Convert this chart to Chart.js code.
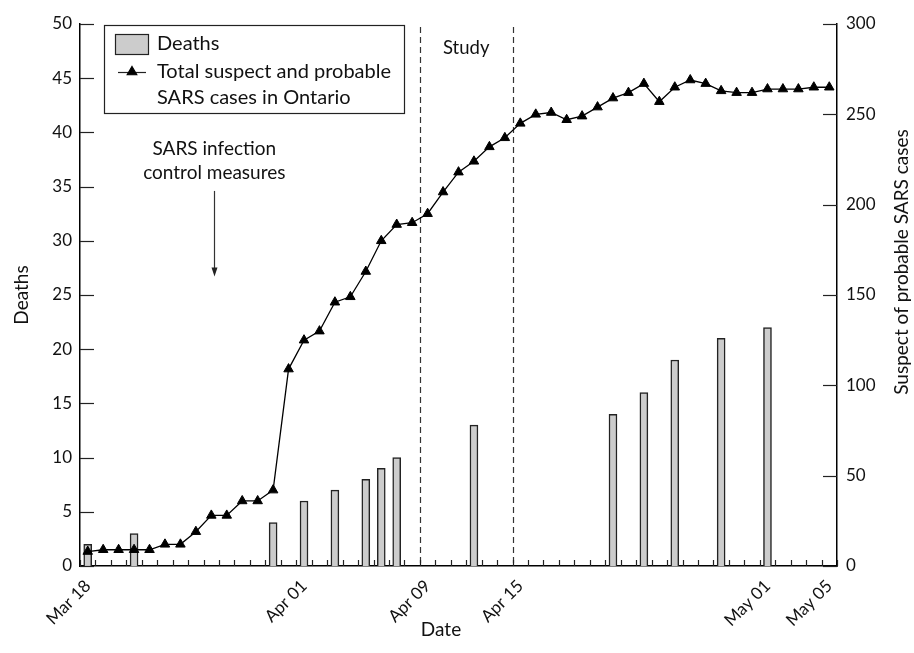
<!DOCTYPE html>
<html>
<head>
<meta charset="utf-8">
<title>SARS deaths and cases in Ontario</title>
<script src="https://cdn.jsdelivr.net/npm/chart.js@4.4.1/dist/chart.umd.min.js"></script>
<style>
  body { margin: 0; background: #ffffff; }
  #box { width: 914px; height: 653px; }
</style>
</head>
<body>
<div id="box"><canvas id="sarsChart" width="914" height="653"></canvas></div>
<script>
const days = [
  "Mar 18", "Mar 19", "Mar 20", "Mar 21", "Mar 22", "Mar 23", "Mar 24",
  "Mar 25", "Mar 26", "Mar 27", "Mar 28", "Mar 29", "Mar 30", "Mar 31",
  "Apr 01", "Apr 02", "Apr 03", "Apr 04", "Apr 05", "Apr 06", "Apr 07",
  "Apr 08", "Apr 09", "Apr 10", "Apr 11", "Apr 12", "Apr 13", "Apr 14",
  "Apr 15", "Apr 16", "Apr 17", "Apr 18", "Apr 19", "Apr 20", "Apr 21",
  "Apr 22", "Apr 23", "Apr 24", "Apr 25", "Apr 26", "Apr 27", "Apr 28",
  "Apr 29", "Apr 30", "May 01", "May 02", "May 03", "May 04", "May 05"
];
const shownDays = ["Mar 18", "Apr 01", "Apr 09", "Apr 15", "May 01", "May 05"];

const deaths = [
  2, null, null, 3, null, null, null,
  null, null, null, null, null, 4, null,
  6, null, 7, null, 8, 9, 10,
  null, null, null, null, 13, null, null,
  null, null, null, null, null, null, 14,
  null, 16, null, 19, null, null, 21,
  null, null, 22, null, null, null, null
];
const cases = [
  8, 9, 9, 9, 9, 12, 12,
  19, 28, 28, 36, 36, 42, 109,
  125, 130, 146, 149, 163, 180, 189,
  190, 195, 207, 218, 224, 232, 237,
  245, 250, 251, 247, 249, 254, 259,
  262, 267, 257, 265, 269, 267, 263,
  262, 262, 264, 264, 264, 265, 265
];

const studyStart = "Apr 09";
const studyEnd = "Apr 15";
const controlDay = "Mar 26";
const caseLegendLines = ["Total suspect and probable", "SARS cases in Ontario"];
const controlText = ["SARS infection", "control measures"];

const FONT = "Lato, 'Open Sans', sans-serif";
const INK = "#111";

const sarsDecor = {
  id: "sarsDecor",
  beforeDatasetsDraw(chart) {
    const { ctx, chartArea: area, scales: { x } } = chart;
    ctx.save();
    ctx.strokeStyle = "#333";
    ctx.lineWidth = 1.2;
    ctx.setLineDash([6, 4]);
    [studyStart, studyEnd].forEach(function (d) {
      const px = Math.round(x.getPixelForValue(days.indexOf(d) - 0.5)) + 0.5;
      ctx.beginPath();
      ctx.moveTo(px, area.top + 3);
      ctx.lineTo(px, area.bottom);
      ctx.stroke();
    });
    ctx.restore();
  },
  afterDraw(chart) {
    const { ctx, chartArea: area, scales: { x, yDeaths, yCases } } = chart;
    ctx.save();

    // inward tick marks
    ctx.strokeStyle = "#222";
    ctx.lineWidth = 1.2;
    for (let i = 0; i <= days.length; i++) {
      const px = Math.round(x.getPixelForValue(i - 0.5)) + 0.5;
      ctx.beginPath();
      ctx.moveTo(px, area.bottom);
      ctx.lineTo(px, area.bottom - 6);
      ctx.stroke();
    }
    yDeaths.ticks.forEach(function (t) {
      const py = Math.round(yDeaths.getPixelForValue(t.value)) + 0.5;
      ctx.beginPath();
      ctx.moveTo(area.left, py);
      ctx.lineTo(area.left + 14, py);
      ctx.stroke();
    });
    yCases.ticks.forEach(function (t) {
      const py = Math.round(yCases.getPixelForValue(t.value)) + 0.5;
      ctx.beginPath();
      ctx.moveTo(area.right, py);
      ctx.lineTo(area.right - 14, py);
      ctx.stroke();
    });

    // study label
    ctx.fillStyle = INK;
    ctx.font = "18.5px " + FONT;
    ctx.textAlign = "center";
    ctx.textBaseline = "middle";
    const sx = (x.getPixelForValue(days.indexOf(studyStart) - 0.5) + x.getPixelForValue(days.indexOf(studyEnd) - 0.5)) / 2;
    ctx.fillText("Study", sx, yDeaths.getPixelForValue(47.8));

    // control measures note and arrow
    const ax = x.getPixelForValue(days.indexOf(controlDay)) + 3;
    ctx.font = "19px " + FONT;
    ctx.fillText(controlText[0], ax, yDeaths.getPixelForValue(38.5));
    ctx.fillText(controlText[1], ax, yDeaths.getPixelForValue(36.3));
    const a0 = yDeaths.getPixelForValue(34.6), a1 = yDeaths.getPixelForValue(26.7);
    ctx.strokeStyle = "#333";
    ctx.lineWidth = 1.2;
    ctx.beginPath();
    ctx.moveTo(Math.round(ax) + 0.5, a0);
    ctx.lineTo(Math.round(ax) + 0.5, a1 - 6);
    ctx.stroke();
    ctx.fillStyle = "#222";
    ctx.beginPath();
    ctx.moveTo(Math.round(ax) + 0.5, a1);
    ctx.lineTo(Math.round(ax) - 2.5, a1 - 9);
    ctx.lineTo(Math.round(ax) + 3.5, a1 - 9);
    ctx.closePath();
    ctx.fill();

    // legend
    const lx = area.left + 24, ly = area.top + 1;
    ctx.fillStyle = "#fff";
    ctx.fillRect(lx, ly, 300, 88);
    ctx.strokeStyle = "#222";
    ctx.lineWidth = 1.2;
    ctx.strokeRect(lx + 0.5, ly + 0.5, 300, 88);
    ctx.fillStyle = "#cccccc";
    ctx.fillRect(lx + 11, ly + 9, 33, 20);
    ctx.strokeRect(lx + 11.5, ly + 9.5, 33, 20);
    ctx.beginPath();
    ctx.moveTo(lx + 14, ly + 47.5);
    ctx.lineTo(lx + 42, ly + 47.5);
    ctx.stroke();
    ctx.fillStyle = "#000";
    ctx.strokeStyle = "#000";
    Chart.helpers.drawPoint(ctx, { pointStyle: "triangle", radius: 5.5, borderWidth: 1, rotation: 0 }, lx + 28, ly + 47);
    ctx.fillStyle = INK;
    ctx.font = "20px " + FONT;
    ctx.textAlign = "left";
    ctx.fillText(chart.data.datasets[1].label, lx + 53, ly + 19);
    ctx.fillText(caseLegendLines[0], lx + 53, ly + 47);
    ctx.fillText(caseLegendLines[1], lx + 53, ly + 73);

    // x axis title, a little left of centre as in the original
    ctx.font = "19px " + FONT;
    ctx.textAlign = "center";
    ctx.fillText("Date", 441, 630);

    // right axis title, reading upward
    ctx.translate(902, 262);
    ctx.rotate(-Math.PI / 2);
    ctx.fillText("Suspect of probable SARS cases", 0, 0);
    ctx.restore();
  }
};

const tickFont = { family: FONT, size: 17 };
const titleFont = { family: FONT, size: 19 };

new Chart(document.getElementById("sarsChart"), {
  data: {
    labels: days,
    datasets: [
      {
        type: "line",
        label: caseLegendLines.join(" "),
        data: cases,
        yAxisID: "yCases",
        borderColor: "#000",
        borderWidth: 1.3,
        pointStyle: "triangle",
        pointRadius: 5.5,
        pointBackgroundColor: "#000",
        pointBorderColor: "#000",
        pointBorderWidth: 1,
        tension: 0,
        order: 0
      },
      {
        type: "bar",
        label: "Deaths",
        data: deaths,
        yAxisID: "yDeaths",
        backgroundColor: "#cccccc",
        borderColor: "#222",
        borderWidth: 1.5,
        barThickness: 8,
        order: 1
      }
    ]
  },
  options: {
    responsive: false,
    animation: false,
    layout: { padding: { top: 24, right: 0, bottom: 0, left: 0 } },
    plugins: { legend: { display: false }, tooltip: { enabled: false } },
    scales: {
      x: {
        offset: true,
        grid: { display: false, drawTicks: false },
        border: { display: true, color: "#000", width: 1.5 },
        ticks: {
          autoSkip: false,
          minRotation: 45,
          maxRotation: 45,
          padding: 10,
          color: INK,
          font: tickFont,
          callback: function (value, index) {
            return shownDays.includes(days[index]) ? days[index] : "";
          }
        },
        afterFit: function (scale) { scale.height = 87; }
      },
      yDeaths: {
        position: "left",
        min: 0,
        max: 50,
        grid: { display: false, drawTicks: false },
        border: { display: true, color: "#000", width: 1.5 },
        ticks: { stepSize: 5, padding: 8, color: INK, font: tickFont },
        title: { display: true, text: "Deaths", color: INK, font: titleFont, padding: { top: 10 } },
        afterFit: function (scale) { scale.width = 80; }
      },
      yCases: {
        position: "right",
        min: 0,
        max: 300,
        grid: { display: false, drawTicks: false },
        border: { display: true, color: "#000", width: 1.5 },
        ticks: { stepSize: 50, padding: 9, color: INK, font: tickFont },
        afterFit: function (scale) { scale.width = 77; }
      }
    }
  },
  plugins: [sarsDecor]
});
</script>
</body>
</html>
